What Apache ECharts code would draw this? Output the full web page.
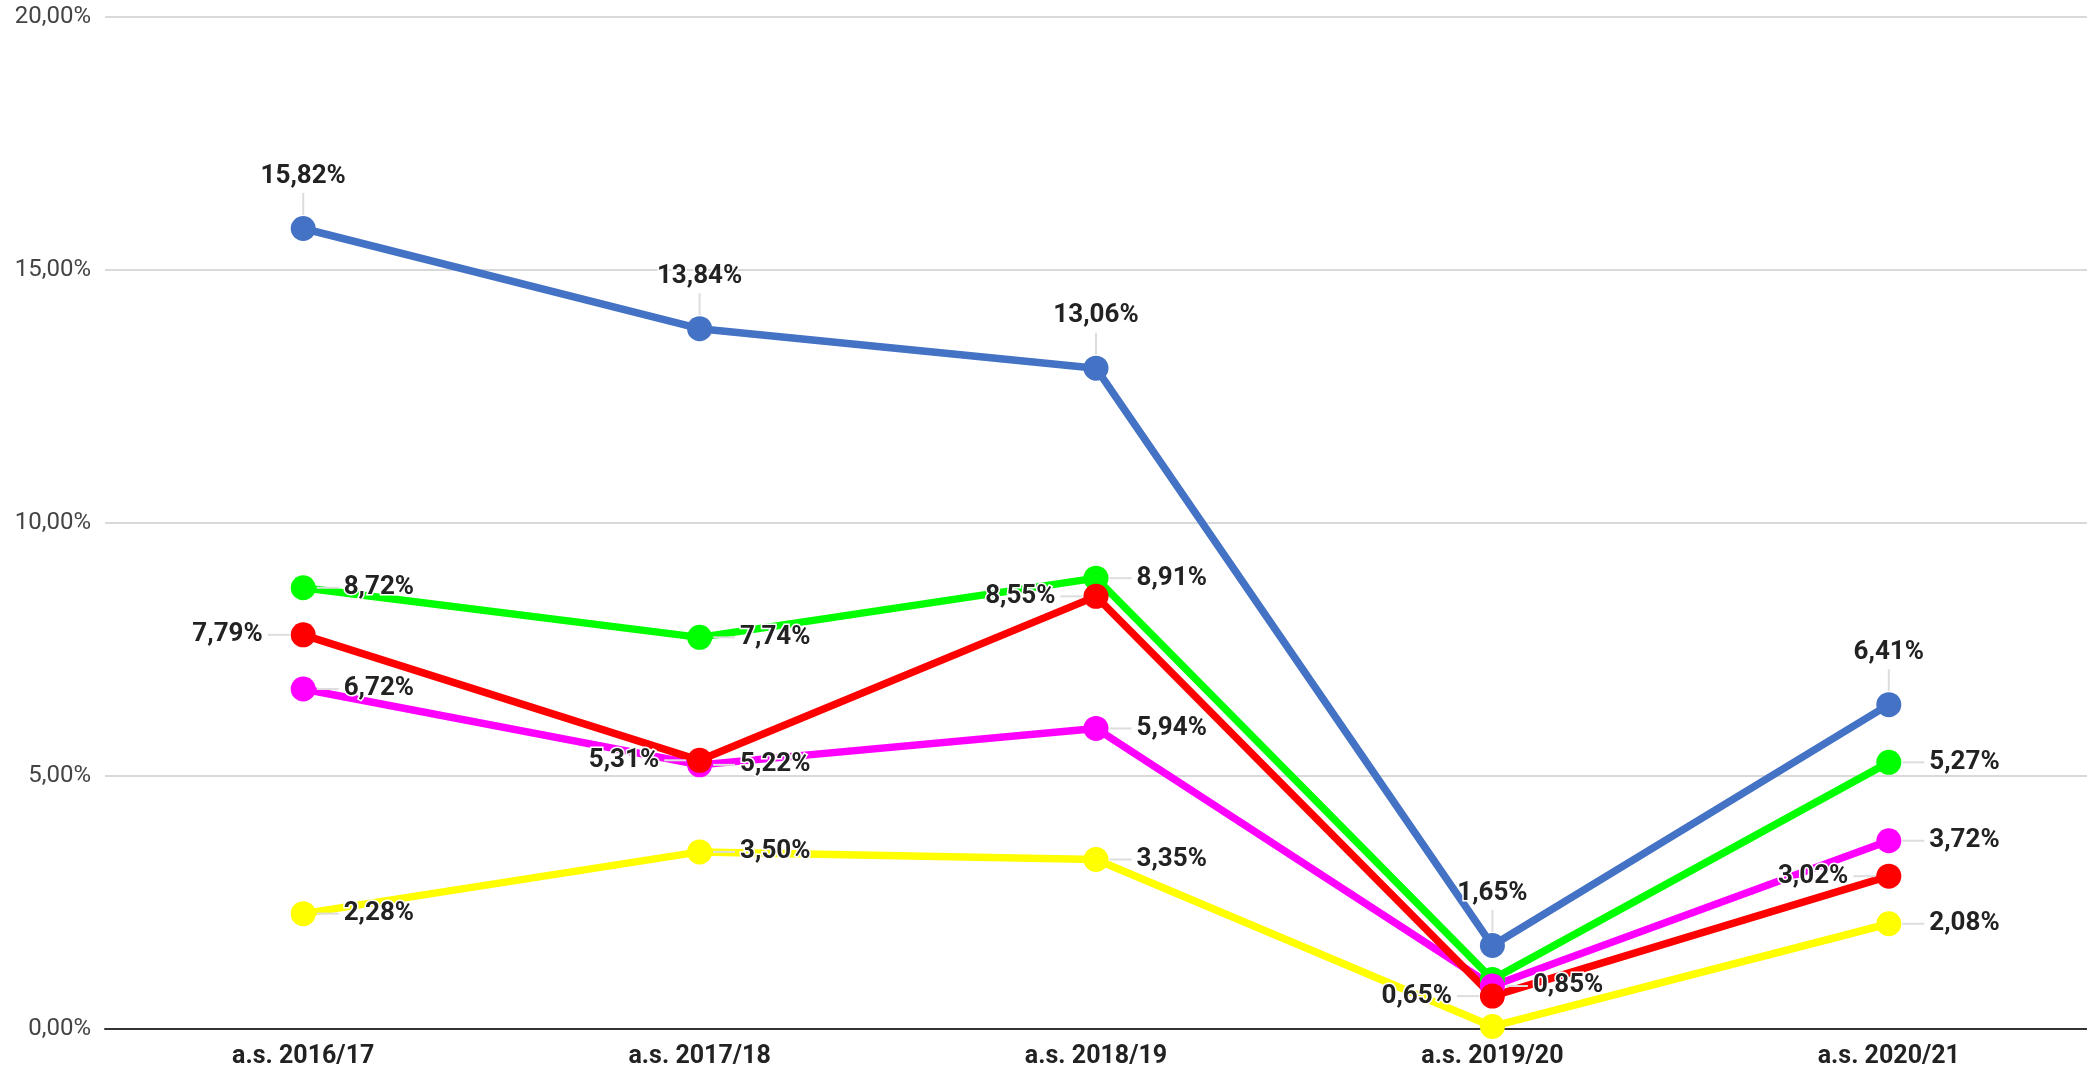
<!DOCTYPE html>
<html>
<head>
<meta charset="utf-8">
<script src="https://cdn.jsdelivr.net/npm/echarts@6/dist/echarts.min.js"></script>
<style>
  html, body { margin: 0; padding: 0; background: #fff; }
  #chart { width: 2087px; height: 1072px; }
</style>
</head>
<body>
<div id="chart"></div>
<script>
// ---- data ----
const categories = ['a.s. 2016/17', 'a.s. 2017/18', 'a.s. 2018/19', 'a.s. 2019/20', 'a.s. 2020/21'];
const blueValues    = [15.82, 13.84, 13.06, 1.65, 6.41];
const greenValues   = [8.72, 7.74, 8.91, 0.98, 5.27];
const magentaValues = [6.72, 5.22, 5.94, 0.85, 3.72];
const redValues     = [7.79, 5.31, 8.55, 0.65, 3.02];
const yellowValues  = [2.28, 3.50, 3.35, 0.05, 2.08];
const yTicks = [0, 5, 10, 15, 20];

// label placement per point (style, not data); null = hidden
const bluePos    = ['top', 'top', 'top', 'top', 'top'];
const greenPos   = ['right', 'right', 'right', null, 'right'];
const magentaPos = ['right', 'right', 'right', 'right', 'right'];
const redPos     = ['left', 'left', 'left', 'left', 'left'];
const yellowPos  = ['right', 'right', 'right', null, 'right'];

const fmt = v => v.toFixed(2).replace('.', ',') + '%';

const textStyle = {
  fontFamily: 'Roboto',
  fontWeight: 'bold',
  fontSize: 26,
  color: '#222',
  textBorderColor: '#fff',
  textBorderWidth: 3
};
const guide = '#dddddd';
const rich = {
  t: textStyle,
  tr: Object.assign({}, textStyle, { padding: [0, 0, 0, 5] }),
  tl: Object.assign({}, textStyle, { padding: [0, 5, 0, 0] }),
  tt: Object.assign({}, textStyle, { padding: [0, 0, 4, 0] }),
  h: { width: 22, height: 2, backgroundColor: guide, verticalAlign: 'middle' },
  v: { width: 2, height: 22, backgroundColor: guide, align: 'center' }
};

function labelFor(pos, v) {
  if (pos === 'right') return '{h|}{tr|' + fmt(v) + '}';
  if (pos === 'left') return '{tl|' + fmt(v) + '}{h|}';
  return '{tt|' + fmt(v) + '}\n{v|}';
}

function makeSeries(name, values, positions, color) {
  return {
    name: name,
    type: 'line',
    data: values.map((v, i) => ({
      value: v,
      label: positions[i]
        ? { show: true, position: positions[i], formatter: labelFor(positions[i], v) }
        : { show: false }
    })),
    symbol: 'circle',
    symbolSize: 25,
    lineStyle: { color: color, width: 7.5 },
    itemStyle: { color: color },
    label: {
      show: true,
      distance: 1,
      fontFamily: 'Roboto',
      fontWeight: 'bold',
      fontSize: 26,
      color: '#222',
      rich: rich
    },
    emphasis: { disabled: true },
    animation: false
  };
}

const chart = echarts.init(document.getElementById('chart'), null, { renderer: 'canvas' });
chart.setOption({
  backgroundColor: '#fff',
  animation: false,
  grid: { left: 105, right: -6, top: 17, bottom: 43, containLabel: false },
  xAxis: {
    type: 'category',
    data: categories,
    boundaryGap: true,
    axisTick: { show: false },
    axisLine: { show: true, lineStyle: { color: '#333', width: 2 } },
    axisLabel: {
      fontFamily: 'Roboto',
      fontWeight: 'bold',
      fontSize: 25,
      color: '#222',
      margin: 15
    }
  },
  yAxis: {
    type: 'value',
    min: yTicks[0],
    max: yTicks[yTicks.length - 1],
    interval: 5,
    axisLine: { show: false },
    axisTick: { show: false },
    splitLine: { lineStyle: { color: '#cccccc', width: 1.5 } },
    axisLabel: {
      formatter: v => fmt(v),
      fontFamily: 'Roboto',
      fontSize: 24,
      color: '#444',
      margin: 14
    }
  },
  series: [
    makeSeries('Blu', blueValues, bluePos, '#4472C4'),
    makeSeries('Verde', greenValues, greenPos, '#00FF00'),
    makeSeries('Magenta', magentaValues, magentaPos, '#FF00FF'),
    makeSeries('Rosso', redValues, redPos, '#FF0000'),
    makeSeries('Giallo', yellowValues, yellowPos, '#FFFF00')
  ]
});
</script>
</body>
</html>
